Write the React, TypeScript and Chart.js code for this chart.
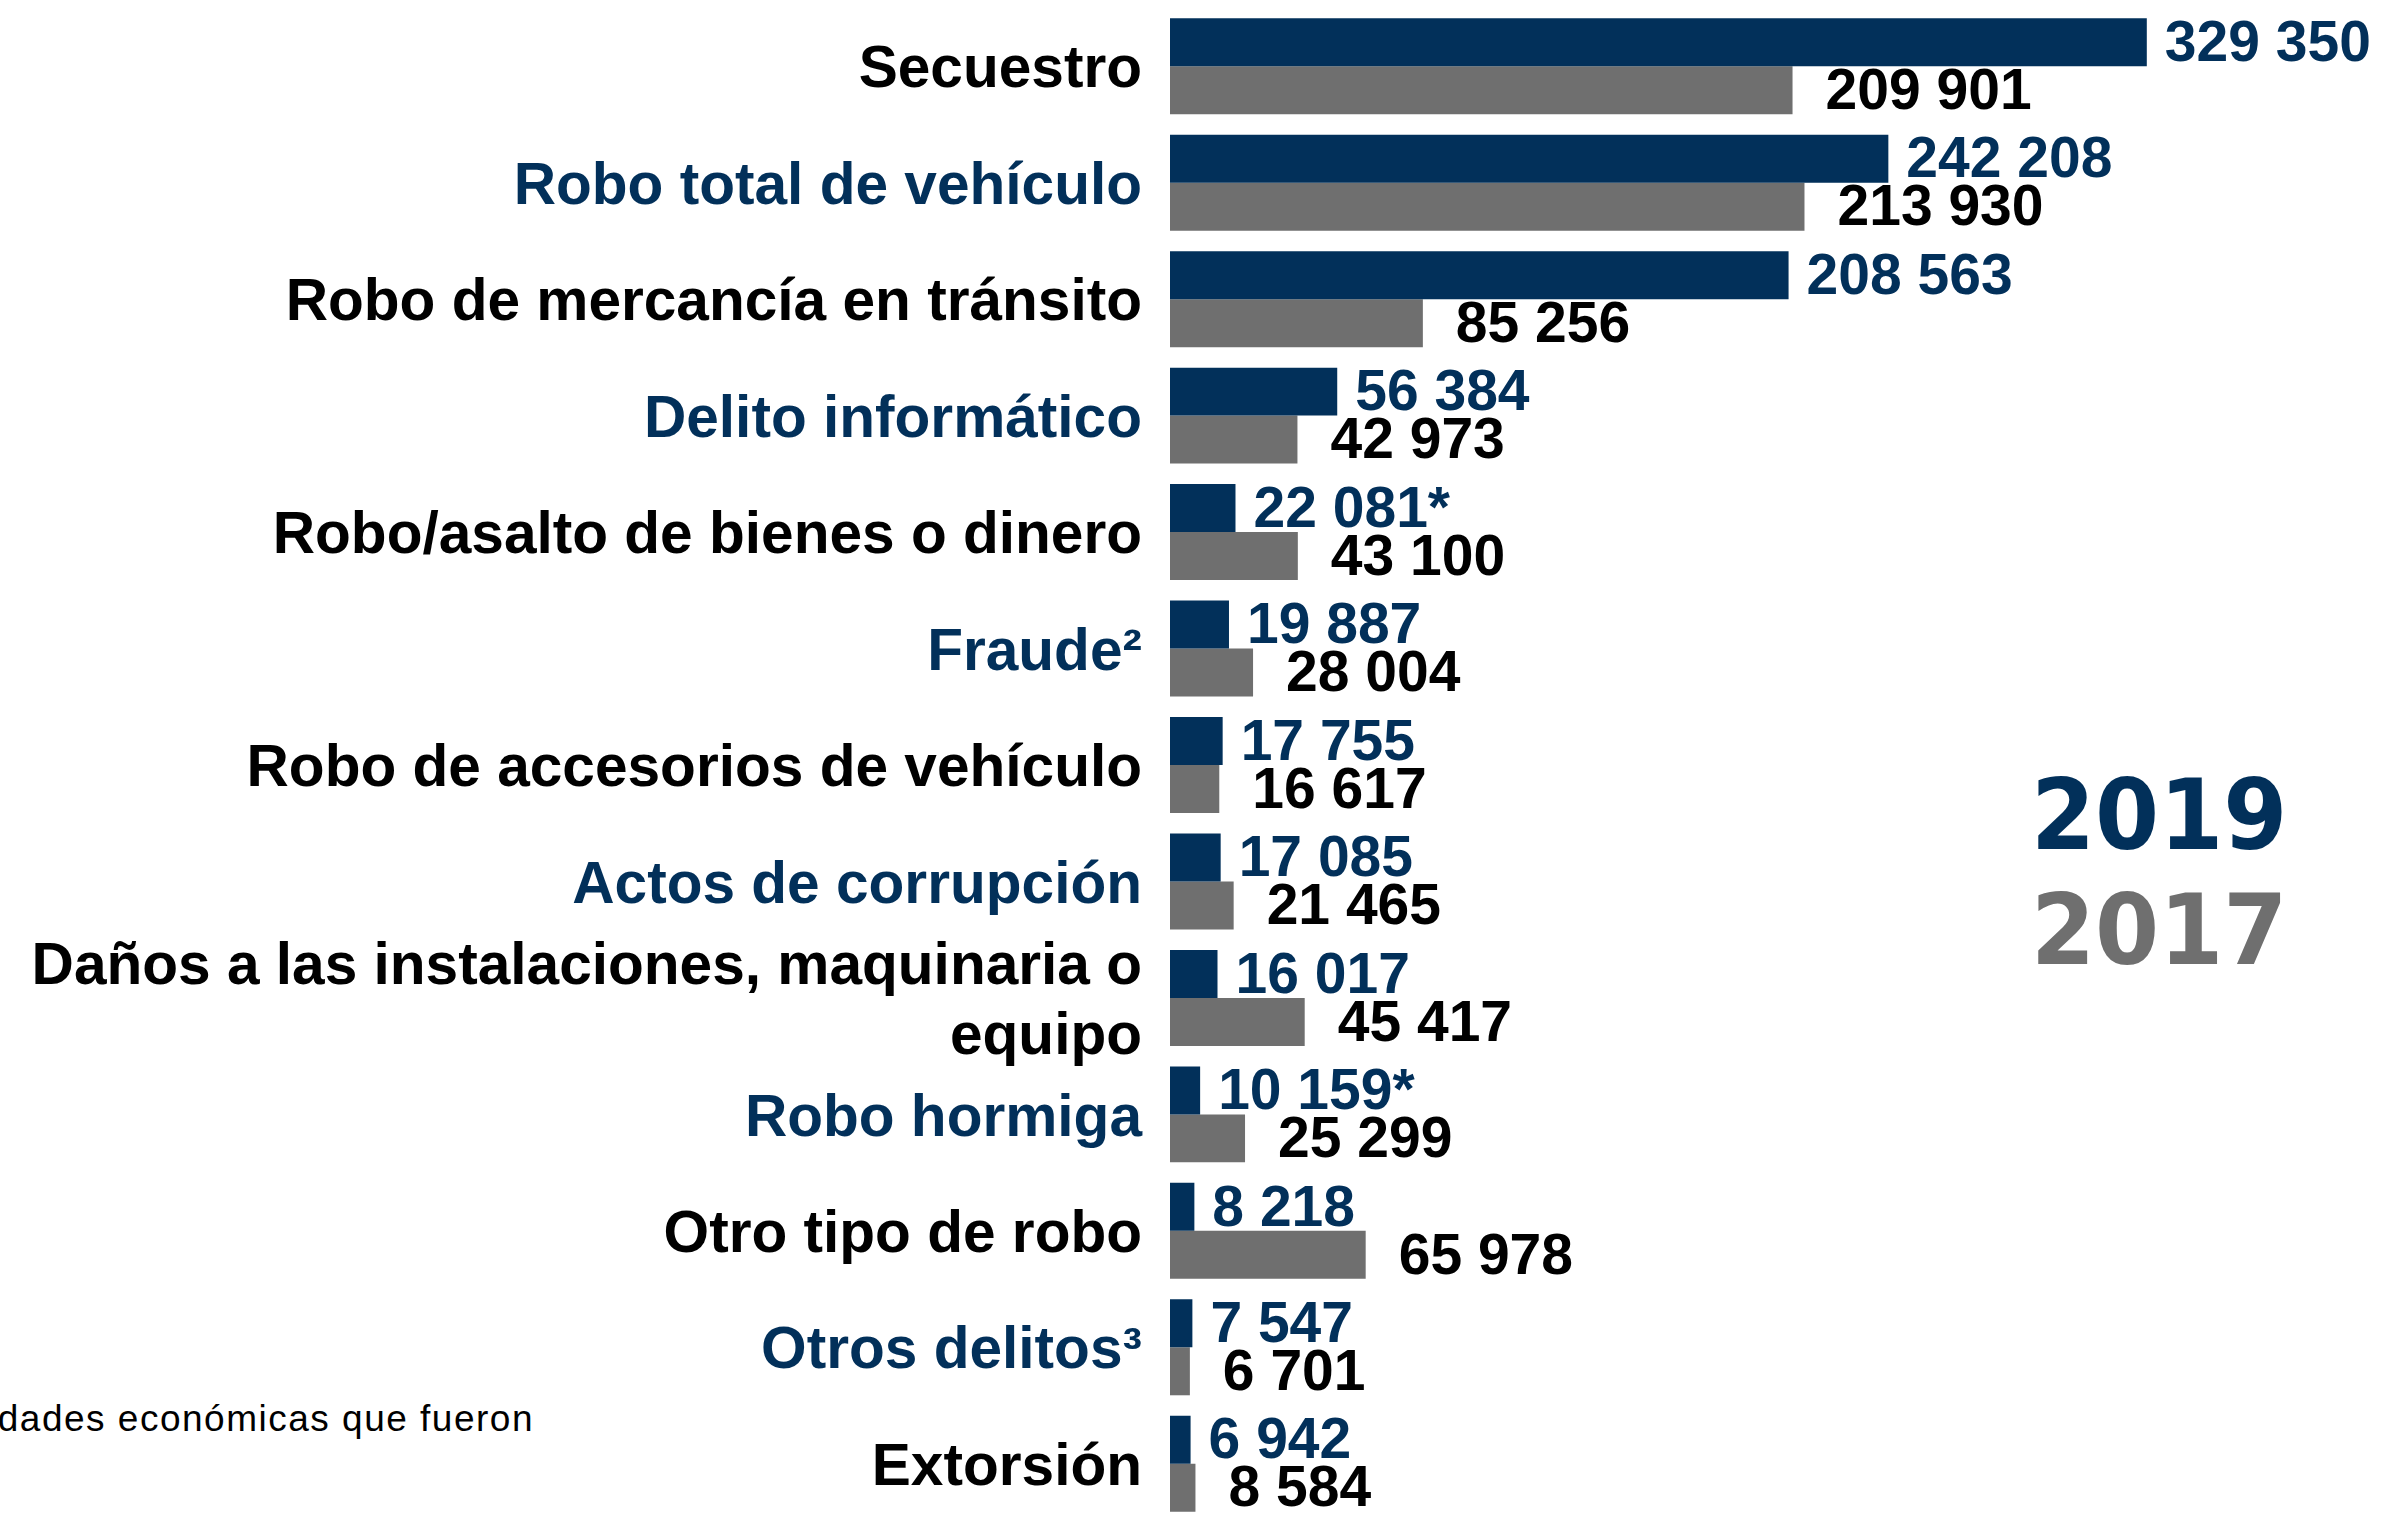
import React, { useEffect, useRef } from "react";
import { Chart, registerables } from "chart.js";

Chart.register(...registerables);

const categories: (string | string[])[] = [
  "Secuestro",
  "Robo total de vehículo",
  "Robo de mercancía en tránsito",
  "Delito informático",
  "Robo/asalto de bienes o dinero",
  "Fraude²",
  "Robo de accesorios de vehículo",
  "Actos de corrupción",
  ["Daños a las instalaciones, maquinaria o", "equipo"],
  "Robo hormiga",
  "Otro tipo de robo",
  "Otros delitos³",
  "Extorsión",
];

const values2019 = [329350, 242208, 208563, 56384, 22081, 19887, 17755, 17085, 16017, 10159, 8218, 7547, 6942];
const values2017 = [209901, 213930, 85256, 42973, 43100, 28004, 16617, 21465, 45417, 25299, 65978, 6701, 8584];
const notes2019 = ["", "", "", "", "*", "", "", "", "", "*", "", "", ""];

const seriesNames = ["2019", "2017"];
const footnoteText = "dades económicas que fueron";

const BLUE = "#02305A";
const GRAY = "#6F6F6F";
const FONT = '"Liberation Sans", Arial, sans-serif';

const fmt = (v: number) => String(v).replace(/\B(?=(\d{3})+(?!\d))/g, " ");

const valueLabels = {
  id: "valueLabels",
  afterDatasetsDraw(chart: any) {
    const ctx = chart.ctx;
    ctx.save();
    ctx.font = `bold 57px ${FONT}`;
    ctx.textBaseline = "middle";
    ctx.textAlign = "left";
    chart.data.datasets.forEach((ds: any, di: number) => {
      const meta = chart.getDatasetMeta(di);
      meta.data.forEach((el: any, i: number) => {
        const txt = fmt(ds.data[i]) + (di === 0 ? notes2019[i] : "");
        ctx.fillStyle = di === 0 ? BLUE : "#000000";
        ctx.fillText(txt, el.x + (di === 0 ? 18 : 33), el.y + 3);
      });
    });
    ctx.restore();
  },
};

export default function App() {
  const ref = useRef<HTMLCanvasElement | null>(null);

  useEffect(() => {
    document.body.style.overflow = "hidden";
    const chart = new Chart(ref.current as HTMLCanvasElement, {
      type: "bar",
      data: {
        labels: categories,
        datasets: [
          {
            label: seriesNames[0],
            data: values2019,
            backgroundColor: BLUE,
            categoryPercentage: 0.824,
            barPercentage: 1.0,
          },
          {
            label: seriesNames[1],
            data: values2017,
            backgroundColor: GRAY,
            categoryPercentage: 0.824,
            barPercentage: 1.0,
          },
        ],
      },
      options: {
        indexAxis: "y",
        responsive: false,
        animation: false,
        layout: { padding: { top: 8, bottom: 8, left: 0, right: 0 } },
        plugins: {
          legend: { display: false },
          tooltip: { enabled: false },
        },
        scales: {
          x: {
            display: false,
            min: 0,
            max: 410000,
          },
          y: {
            grid: { display: false },
            border: { display: false },
            afterFit: (scale: any) => {
              scale.width = 1170;
              scale.paddingTop = 0;
              scale.paddingBottom = 0;
            },
            ticks: {
              autoSkip: false,
              padding: 20,
              labelOffset: 5,
              font: { family: FONT, size: 58.6, weight: "bold", lineHeight: 1.2 },
              color: (c: any) => (c.index % 2 === 0 ? "#000000" : BLUE),
            },
          },
        },
      },
      plugins: [valueLabels],
    });
    return () => chart.destroy();
  }, []);

  return (
    <div
      style={{
        position: "fixed",
        left: 0,
        top: 0,
        width: 2386,
        height: 1513,
        overflow: "hidden",
        background: "#ffffff",
      }}
    >
      <div
        style={{
          position: "absolute",
          right: 2386 - 534,
          top: 1400,
          fontFamily: FONT,
          fontSize: 37,
          lineHeight: 1,
          letterSpacing: "1.5px",
          whiteSpace: "nowrap",
          color: "#000",
        }}
      >
        {footnoteText}
      </div>
      <canvas ref={ref} width={2386} height={1530} style={{ display: "block", position: "absolute", left: 0, top: 0 }} />
      <div
        style={{
          position: "absolute",
          left: 2031,
          top: 766,
          fontFamily: '"DejaVu Sans", sans-serif',
          fontWeight: "bold",
          fontSize: 98,
          lineHeight: 1,
          color: BLUE,
          transform: "scaleX(0.94)",
          transformOrigin: "left top",
          whiteSpace: "nowrap",
        }}
      >
        {seriesNames[0]}
      </div>
      <div
        style={{
          position: "absolute",
          left: 2031,
          top: 881,
          fontFamily: '"DejaVu Sans", sans-serif',
          fontWeight: "bold",
          fontSize: 98,
          lineHeight: 1,
          color: GRAY,
          transform: "scaleX(0.94)",
          transformOrigin: "left top",
          whiteSpace: "nowrap",
        }}
      >
        {seriesNames[1]}
      </div>
    </div>
  );
}
